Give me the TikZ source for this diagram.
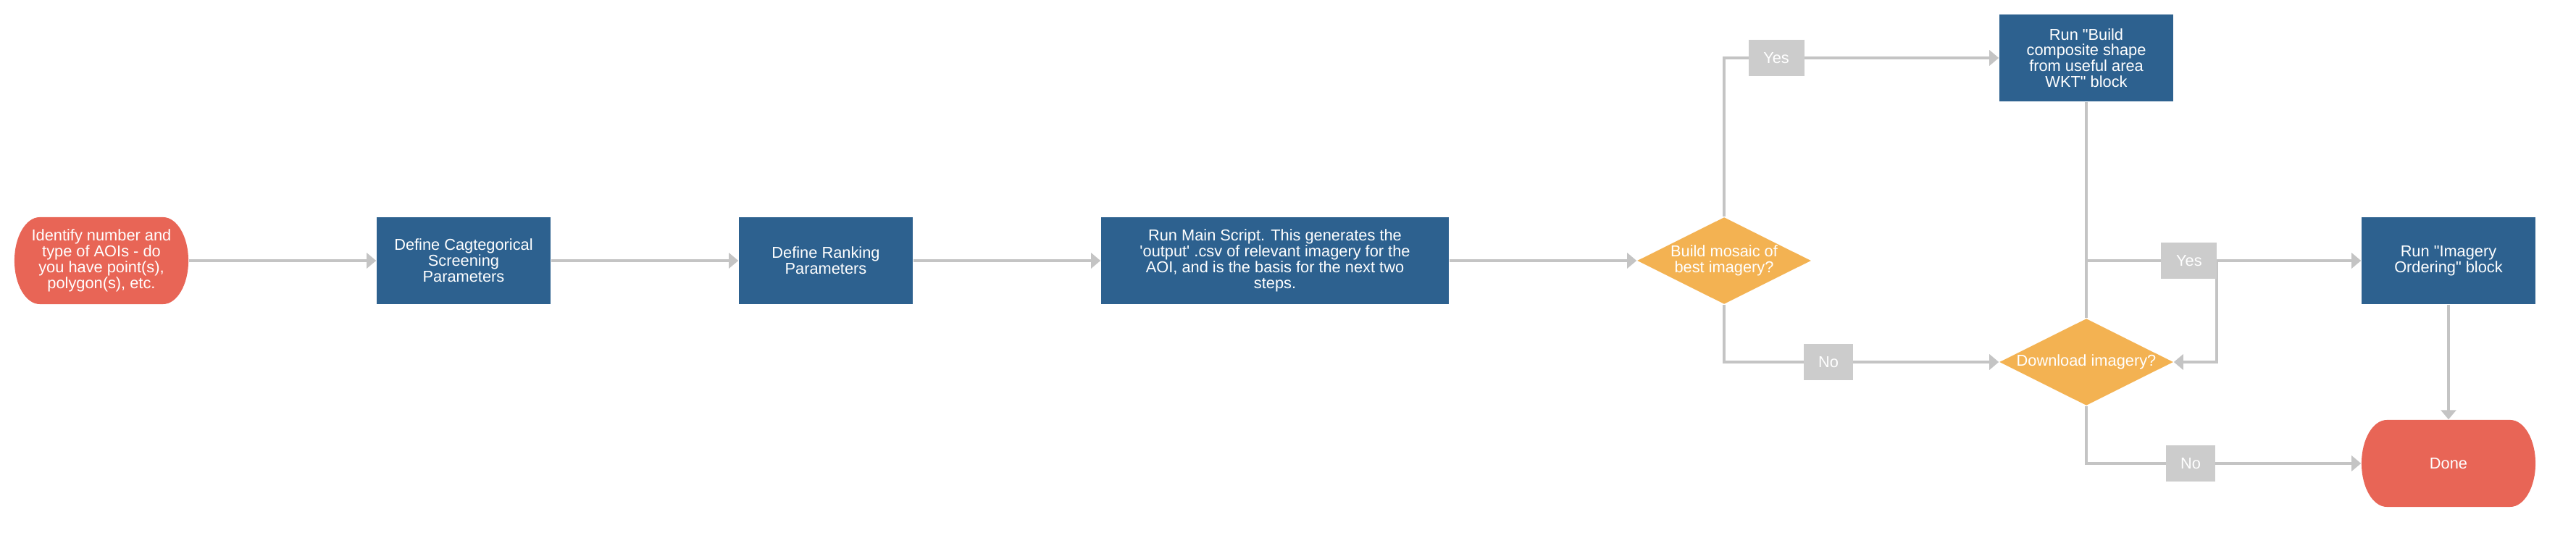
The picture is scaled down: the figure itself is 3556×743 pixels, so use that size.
\documentclass[tikz,border=0pt]{standalone}
\usepackage{fontspec}
\setmainfont{Liberation Sans}
\usepackage{xcolor}
\usetikzlibrary{shapes.geometric,arrows.meta}
\definecolor{termred}{HTML}{E86556}
\definecolor{stepblue}{HTML}{2D618F}
\definecolor{askorange}{HTML}{F3B252}
\definecolor{linegray}{HTML}{C4C4C4}
\definecolor{taggray}{HTML}{CCCCCC}

\begin{document}
\begin{tikzpicture}[x=0.01cm, y=-0.01cm,
	every node/.style={font=\fontsize{6.2}{6.2}\selectfont, text=white, align=center, inner sep=0pt},
	stepbox/.style={rectangle, fill=stepblue, minimum width=2.4cm, minimum height=1.2cm},
	term/.style={rectangle, fill=white, minimum width=2.4cm, minimum height=1.2cm,
		path picture={\fill[termred] ([xshift=0.35cm]path picture bounding box.north west)
			-- ([xshift=-0.35cm]path picture bounding box.north east)
			arc[start angle=90, end angle=-90, x radius=0.35cm, y radius=0.6cm]
			-- ([xshift=0.35cm]path picture bounding box.south west)
			arc[start angle=270, end angle=90, x radius=0.35cm, y radius=0.6cm] -- cycle;}},
	ask/.style={diamond, fill=askorange, minimum width=2.4cm, minimum height=1.2cm, aspect=2},
	tag/.style={rectangle, fill=taggray, minimum width=0.77cm, minimum height=0.49cm},
	flow/.style={draw=linegray, line width=1.14pt, >={Triangle[length=1.3mm, width=2.1mm]}}]
	  \useasboundingbox (0, 0) rectangle (3556, 743);
	  \draw(140, 360) node[term](aoi) {Identify number and\\type of AOIs - do\\you have point(s),\\polygon(s), etc.};
	  \draw(640, 360) node[stepbox](screen) {Define Cagtegorical\\Screening\\Parameters};
	  \draw(1140, 360) node[stepbox](rank) {Define Ranking\\Parameters};
	  \draw(1760, 360) node[stepbox, minimum width=4.8cm](mainscript) {Run Main Script. This generates the\\\textquotesingle output\textquotesingle{} .csv of relevant imagery for the\\AOI, and is the basis for the next two\\steps.};
	  \draw(2380, 360) node[ask](mosaic) {Build mosaic of\\best imagery?};
	  \draw(2880, 80) node[stepbox](composite) {Run \textquotedbl Build\\composite shape\\from useful area\\WKT\textquotedbl{} block};
	  \draw(2880, 500) node[ask](download) {Download imagery?};
	  \draw(3380, 360) node[stepbox](ordering) {Run \textquotedbl Imagery\\Ordering\textquotedbl{} block};
	  \draw(3380, 640) node[term](done) {Done};
	  \coordinate (bend) at (3060, 360);
	  \draw[flow, ->](aoi) -- (screen);
	  \draw[flow, ->](screen) -- (rank);
	  \draw[flow, ->](rank) -- (mainscript);
	  \draw[flow, ->](mainscript) -- (mosaic);
	  \draw[flow, ->](mosaic.north) |- node[tag, pos=0.595] {Yes} (composite.west);
	  \draw[flow, ->](mosaic.south) |- node[tag, pos=0.69, minimum width=0.68cm] {No} (download.west);
	  \draw[flow, ->](composite.south) |- (bend) |- (download.east);
	  \draw[flow, ->](download.north) |- node[tag, pos=0.687] {Yes} (ordering.west);
	  \draw[flow, ->](download.south) |- node[tag, pos=0.69, minimum width=0.68cm] {No} (done.west);
	  \draw[flow, ->](ordering) -- (done);
	\end{tikzpicture}
\end{document}
